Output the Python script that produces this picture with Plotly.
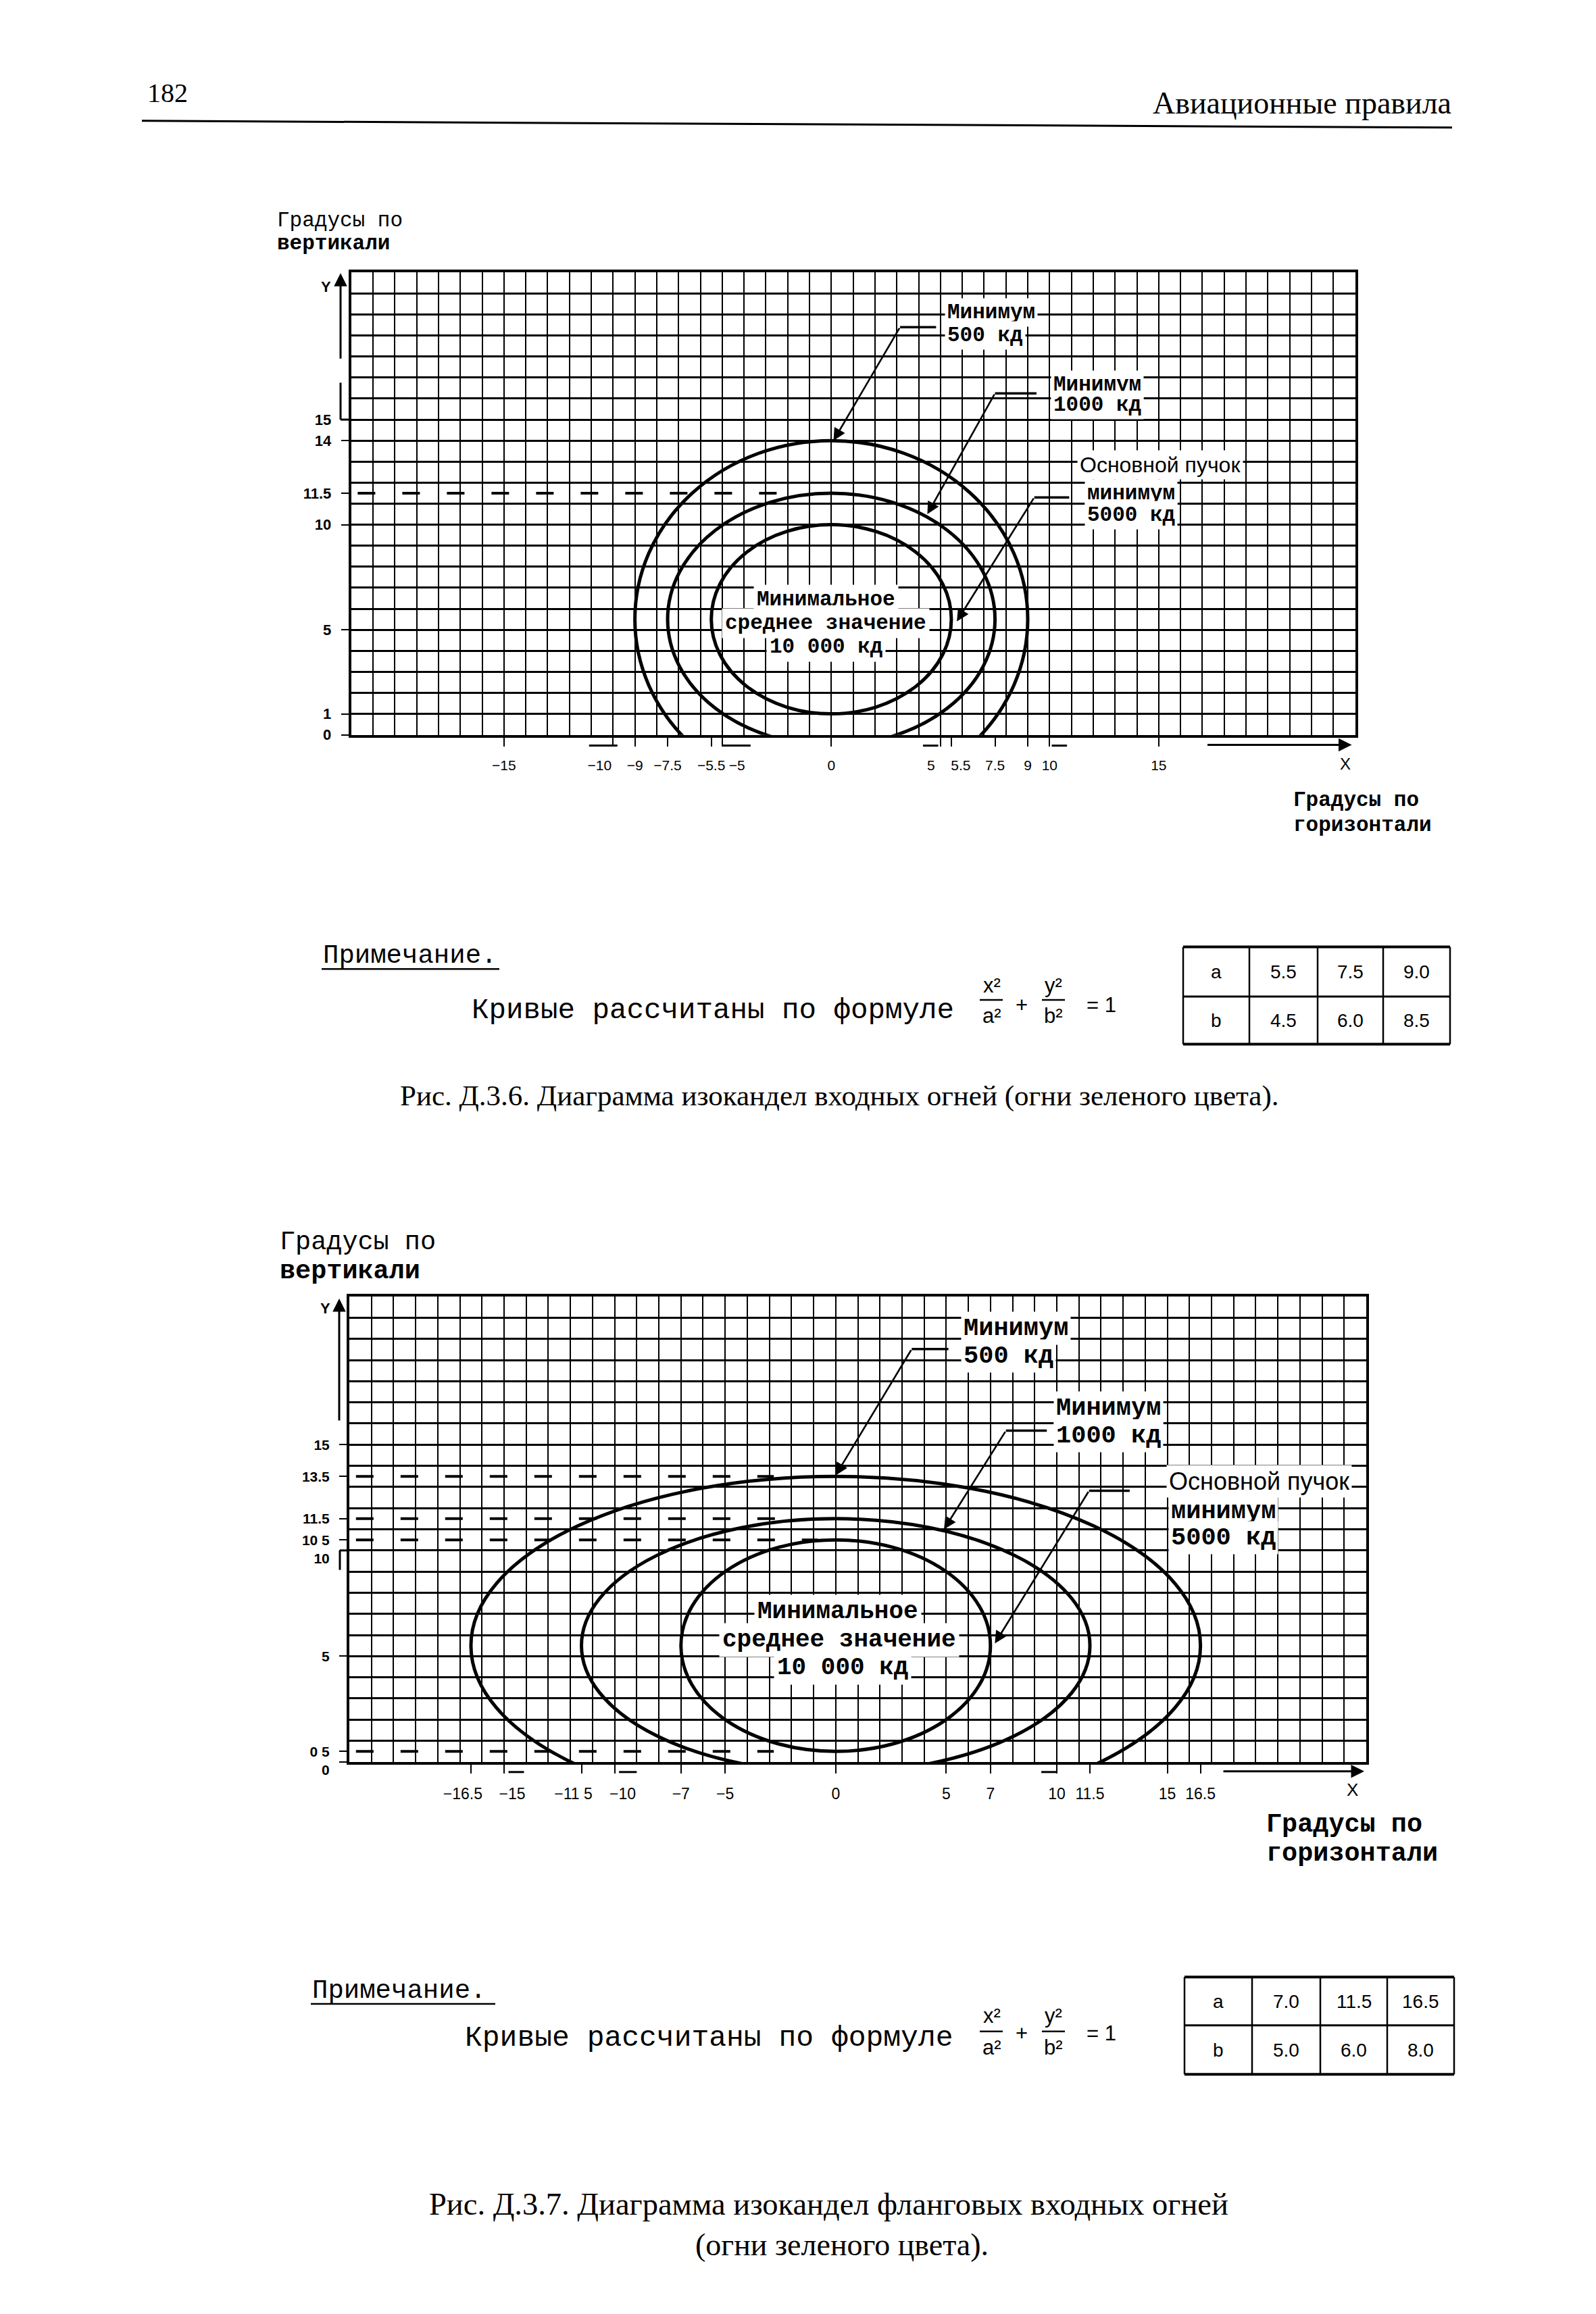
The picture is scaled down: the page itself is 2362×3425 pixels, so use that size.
import plotly.graph_objects as go

# ---------------- data ----------------
top_a = [5.5, 7.5, 9.0]
top_b = [4.5, 6.0, 8.5]
top_center_y = 5.5
top_x_ticks = [-15, -10, -9, -7.5, -5.5, -5, 0, 5, 5.5, 7.5, 9, 10, 15]
top_x_labels = ["−15", "−10", "−9", "−7.5", "−5.5", "−5", "0", "5", "5.5", "7.5", "9", "10", "15"]
top_y_ticks = [0, 1, 5, 10, 11.5, 14, 15]
top_y_labels = ["0", "1", "5", "10", "11.5", "14", "15"]
top_dash_levels = [11.5]
top_dash_end = [-2.5]

bot_a = [7.0, 11.5, 16.5]
bot_b = [5.0, 6.0, 8.0]
bot_center_y = 5.5
bot_x_ticks = [-16.5, -15, -11.5, -10, -7, -5, 0, 5, 7, 10, 11.5, 15, 16.5]
bot_x_labels = ["−16.5", "−15", "−11 5", "−10", "−7", "−5", "0", "5", "7", "10", "11.5", "15", "16.5"]
bot_y_ticks = [0, 0.5, 5, 10, 10.5, 11.5, 13.5, 15]
bot_y_labels = ["0", "0 5", "5", "10", "10 5", "11.5", "13.5", "15"]
bot_dash_levels = [13.5, 11.5, 10.5, 0.5]
bot_dash_end = [-2.8, -2.6, -0.8, -2.8]

x_range = [-22, 24]
y_range = [0, 22]

# ---------------- page geometry ----------------
W, H = 2362, 3425
XS = -10  # global horizontal offset of the page content
SERIF = "Liberation Serif"
MONO = "Liberation Mono"
SANS = "Liberation Sans"


def px(x):
    return (x + XS) / W


def py(y):
    return 1 - y / H


TOP = dict(L=521.7, R=2007.5, T=398.0, B=1087.0)
BOT = dict(L=519.0, R=2024.0, T=1924.0, B=2617.5)

# label shifts (pixels along the axis) so that crowded tick labels sit as in the print
top_x_shift = {-10: -20, 5: -14, -5: 22, 5.5: 14}
bot_x_shift = {-16.5: -12, -11.5: -12, -15: 12, -10: 12}
top_y_shift = {}
bot_y_shift = {0: 12, 10: 12}

fig = go.Figure()
shapes = []
annotations = []
axis_counter = [4]


def new_id():
    axis_counter[0] += 1
    return axis_counter[0]


def ptext(text, x, y, size, family, xanchor="center", weight="normal", yanchor="middle"):
    annotations.append(dict(text=text, x=px(x), y=py(y), xref="paper", yref="paper",
                            xanchor=xanchor, yanchor=yanchor, showarrow=False,
                            font=dict(family=family, size=size, color="black", weight=weight)))


def pline(x0, y0, x1, y1, width=3, dash="solid"):
    shapes.append(dict(type="line", xref="paper", yref="paper", x0=px(x0), y0=py(y0),
                       x1=px(x1), y1=py(y1), line=dict(color="black", width=width, dash=dash)))


def data_px(g, x, y):
    xp = g["L"] + (x - x_range[0]) / (x_range[1] - x_range[0]) * (g["R"] - g["L"])
    yp = g["B"] - (y - y_range[0]) / (y_range[1] - y_range[0]) * (g["B"] - g["T"])
    return xp, yp


def axname(a):
    return ("xaxis" if a[0] == "x" else "yaxis") + a[1:]


def tick_axes(kind, base, anchor, main_id, vals, labels, shifts, rng, font, ticklen, standoff, side):
    """main tick axis with all tick marks + extra overlay axes for shifted labels"""
    main_text = [t if shifts.get(v, 0) == 0 else "" for v, t in zip(vals, labels)]
    common = dict(overlaying=base, anchor=anchor, range=rng, tickmode="array", ticks="outside",
                  ticklen=ticklen, tickwidth=2, showgrid=False, zeroline=False, showline=False,
                  side=side, ticklabelstandoff=standoff, fixedrange=True, tickangle=0, tickfont=font)
    fig.update_layout({axname(main_id): dict(common, tickvals=vals, ticktext=main_text, tickcolor="black")})
    extra = []
    for s in sorted(set(shifts.get(v, 0) for v in vals) - {0}):
        gv = [v for v in vals if shifts.get(v, 0) == s]
        gt = [t for v, t in zip(vals, labels) if shifts.get(v, 0) == s]
        aid = kind + str(new_id())
        fig.update_layout({axname(aid): dict(common, tickvals=gv, ticktext=gt,
                                             tickcolor="rgba(0,0,0,0)", ticklabelshift=s)})
        extra.append(aid)
    return extra


def build_chart(g, xa, ya, xt, yt, a_vals, b_vals, yc, xticks, xlabels, yticks, ylabels,
                dash_levels, dash_end, xfont_size, yfont_size, xshift, yshift,
                callouts, texts, center_texts, tfont):
    grid_common = dict(showticklabels=False, ticks="", zeroline=False,
                       showline=True, linewidth=4, linecolor="black", mirror=True,
                       showgrid=True, gridcolor="black", dtick=1, tick0=0, fixedrange=True)
    xg = dict(grid_common, range=x_range, domain=[px(g["L"]), px(g["R"])], anchor=ya, gridwidth=1.6)
    yg = dict(grid_common, range=y_range, domain=[py(g["B"]), py(g["T"])], anchor=xa, gridwidth=2.6)
    fig.update_layout({axname(xa): xg, axname(ya): yg})
    fig.add_trace(go.Scatter(x=[None], y=[None], xaxis=xa, yaxis=ya, showlegend=False, hoverinfo="skip"))

    xf = dict(family=SANS, size=xfont_size, color="black")
    yf = dict(family=SANS, size=yfont_size, color="black", weight="bold")
    ex_x = tick_axes("x", xa, ya, xt, xticks, xlabels, xshift, x_range, xf, 16, 10, "bottom")
    ex_y = tick_axes("y", ya, xa, yt, yticks, ylabels, yshift, y_range, yf, 14, 10, "left")
    fig.add_trace(go.Scatter(x=[None], y=[None], xaxis=xt, yaxis=yt, showlegend=False, hoverinfo="skip"))
    for e in ex_x:
        fig.add_trace(go.Scatter(x=[None], y=[None], xaxis=e, yaxis=ya, showlegend=False, hoverinfo="skip"))
    for e in ex_y:
        fig.add_trace(go.Scatter(x=[None], y=[None], xaxis=xa, yaxis=e, showlegend=False, hoverinfo="skip"))

    # ellipses x^2/a^2 + (y-yc)^2/b^2 = 1
    for a, b in zip(a_vals, b_vals):
        shapes.append(dict(type="circle", xref=xa, yref=ya, x0=-a, x1=a, y0=yc - b, y1=yc + b,
                           line=dict(color="black", width=5), layer="above"))
    # dashed reference levels
    for lev, xe in zip(dash_levels, dash_end):
        shapes.append(dict(type="line", xref=xa, yref=ya, x0=x_range[0] + 0.3, x1=xe, y0=lev, y1=lev,
                           line=dict(color="black", width=4, dash="26px,40px"), layer="above"))
    # callout leaders
    for (tx, ty, kx, ky, ex) in callouts:
        shapes.append(dict(type="line", xref=xa, yref=ya, x0=kx, x1=ex, y0=ky, y1=ky,
                           line=dict(color="black", width=3.5), layer="above"))
        annotations.append(dict(x=tx, y=ty, ax=kx, ay=ky, xref=xa, yref=ya, axref=xa, ayref=ya,
                                text="", showarrow=True, arrowhead=2, arrowsize=1.4,
                                arrowwidth=2.6, arrowcolor="black", standoff=0))
    for (t, x, y, fam, w, size) in texts:
        annotations.append(dict(text=t, x=x, y=y, xref=xa, yref=ya, xanchor="left", yanchor="middle",
                                showarrow=False, bgcolor="white", borderpad=3,
                                font=dict(family=fam, size=size, color="black", weight=w)))
    for (t, x, y) in center_texts:
        annotations.append(dict(text=t, x=x, y=y, xref=xa, yref=ya, xanchor="center", yanchor="middle",
                                showarrow=False, bgcolor="white", borderpad=4,
                                font=dict(family=MONO, size=tfont, color="black", weight="bold")))


# ---------------- top chart ----------------
top_callouts = [
    (0.1, 14.0, 3.15, 19.4, 4.8),
    (4.4, 10.5, 7.5, 16.25, 9.4),
    (5.75, 5.4, 9.3, 11.3, 10.9),
]
top_texts = [
    ("Минимум", 5.2, 20.1, MONO, "bold", 31),
    ("500 кд", 5.2, 19.0, MONO, "bold", 31),
    ("Минимум", 10.05, 16.65, MONO, "bold", 31),
    ("1000 кд", 10.05, 15.68, MONO, "bold", 31),
    ("Основной пучок", 11.25, 12.84, SANS, "normal", 32),
    ("минимум", 11.6, 11.48, MONO, "bold", 31),
    ("5000 кд", 11.6, 10.45, MONO, "bold", 31),
]
top_center = [("Минимальное", -0.25, 6.42), ("среднее значение", -0.25, 5.31), ("10 000 кд", -0.25, 4.2)]
build_chart(TOP, "x", "y", "x3", "y3", top_a, top_b, top_center_y, top_x_ticks, top_x_labels,
            top_y_ticks, top_y_labels, top_dash_levels, top_dash_end, 21, 22, top_x_shift, top_y_shift,
            top_callouts, top_texts, top_center, 31)

# ---------------- bottom chart ----------------
bot_callouts = [
    (0.0, 13.55, 3.44, 19.52, 5.1),
    (4.9, 11.0, 7.7, 15.66, 9.55),
    (7.2, 5.6, 11.46, 12.82, 13.3),
]
bot_texts = [
    ("Минимум", 5.65, 20.49, MONO, "bold", 37),
    ("500 кд", 5.65, 19.18, MONO, "bold", 37),
    ("Минимум", 9.85, 16.74, MONO, "bold", 37),
    ("1000 кд", 9.85, 15.43, MONO, "bold", 37),
    ("Основной пучок", 14.95, 13.27, SANS, "normal", 36),
    ("минимум", 15.05, 11.85, MONO, "bold", 37),
    ("5000 кд", 15.05, 10.6, MONO, "bold", 37),
]
bot_center = [("Минимальное", 0.1, 7.11), ("среднее значение", 0.15, 5.76), ("10 000 кд", 0.3, 4.46)]
build_chart(BOT, "x2", "y2", "x4", "y4", bot_a, bot_b, bot_center_y, bot_x_ticks, bot_x_labels,
            bot_y_ticks, bot_y_labels, bot_dash_levels, bot_dash_end, 23, 21, bot_x_shift, bot_y_shift,
            bot_callouts, bot_texts, bot_center, 36)

# ---------------- decorations around charts ----------------
tl, bl = TOP["L"], BOT["L"]
_, t15 = data_px(TOP, 0, 15)
_, b10 = data_px(BOT, 0, 10)
annotations.append(dict(x=px(tl - 15.7), y=py(TOP["T"] + 1), ax=0, ay=128, xref="paper", yref="paper",
                        text="", showarrow=True, arrowhead=2, arrowsize=1.3, arrowwidth=3, arrowcolor="black"))
pline(tl - 15.7, t15 - 55, tl - 15.7, t15, 3)
pline(tl - 15.7, t15, tl, t15, 3)
annotations.append(dict(x=px(bl - 15), y=py(BOT["T"] + 3), ax=0, ay=182, xref="paper", yref="paper",
                        text="", showarrow=True, arrowhead=2, arrowsize=1.3, arrowwidth=3, arrowcolor="black"))
pline(bl - 14, b10, bl, b10, 3)
pline(bl - 14, b10, bl - 14, b10 + 29, 3)
ptext("Y", tl - 37, TOP["T"] + 21, 22, SANS, weight="bold")
ptext("Y", bl - 36, BOT["T"] + 18, 22, SANS, weight="bold")

# X arrows
annotations.append(dict(x=px(TOP["R"] - 5), y=py(TOP["B"] + 15), ax=-215, ay=0, xref="paper", yref="paper",
                        text="", showarrow=True, arrowhead=2, arrowsize=1.3, arrowwidth=3, arrowcolor="black"))
annotations.append(dict(x=px(BOT["R"] - 3), y=py(BOT["B"] + 14), ax=-210, ay=0, xref="paper", yref="paper",
                        text="", showarrow=True, arrowhead=2, arrowsize=1.3, arrowwidth=3, arrowcolor="black"))
ptext("X", TOP["R"] - 15, TOP["B"] + 43, 24, SANS)
ptext("X", BOT["R"] - 21, BOT["B"] + 41, 26, SANS)

# small marks below the x axes
for (x0, x1) in [(-11.1, -9.8), (-5.0, -3.7), (4.2, 4.9), (10.1, 10.8)]:
    a0, b0 = data_px(TOP, x0, 0)
    a1, _ = data_px(TOP, x1, 0)
    pline(a0, b0 + 16, a1, b0 + 16, 3)
for (x0, x1) in [(-14.8, -14.1), (-9.8, -9.0), (9.3, 10.0)]:
    a0, b0 = data_px(BOT, x0, 0)
    a1, _ = data_px(BOT, x1, 0)
    pline(a0, b0 + 15, a1, b0 + 15, 3)

# axis titles
ptext("Градусы по", 410, 321, 31, MONO, xanchor="left")
ptext("вертикали", 410, 355, 31, MONO, xanchor="left", weight="bold")
ptext("Градусы по", 1914, 1184, 31, MONO, xanchor="left", weight="bold")
ptext("горизонтали", 1914, 1222, 31, MONO, xanchor="left", weight="bold")
ptext("Градусы по", 414, 1843, 38.5, MONO, xanchor="left")
ptext("вертикали", 414, 1887, 38.5, MONO, xanchor="left", weight="bold")
ptext("Градусы по", 1874, 2711, 38.5, MONO, xanchor="left", weight="bold")
ptext("горизонтали", 1874, 2754, 38.5, MONO, xanchor="left", weight="bold")

# ---------------- header ----------------
ptext("182", 250, 130, 40, SERIF)
ptext("Авиационные правила", 2152, 145, 46, SERIF, xanchor="right")
pline(212, 172, 2151, 182, 3)


# ---------------- notes, formulas, tables, captions ----------------
def note_block(y_note, x_note, u_end, y_text, x_text, text_size, y_num, y_bar, y_den, y_eq,
               table_cols, table_rows, a_vals, b_vals):
    ptext("Примечание.", x_note, y_note, 39, MONO, xanchor="left")
    pline(x_note, y_note + 19, u_end, y_note + 19, 2.5)
    ptext("Кривые рассчитаны по формуле", x_text, y_text, text_size, MONO, xanchor="left")
    ptext("x²", 1470, y_num, 31, SANS)
    ptext("a²", 1470, y_den, 31, SANS)
    ptext("+", 1514, y_eq, 31, SANS)
    ptext("y²", 1561, y_num, 31, SANS)
    ptext("b²", 1561, y_den, 31, SANS)
    ptext("= 1", 1608, y_eq, 31, SANS, xanchor="left")
    pline(1452, y_bar, 1486, y_bar, 2.5)
    pline(1544, y_bar, 1578, y_bar, 2.5)
    # table
    for i, yv in enumerate(table_rows):
        pline(table_cols[0], yv, table_cols[-1], yv, 4 if i != 1 else 3)
    for xv in table_cols:
        pline(xv, table_rows[0], xv, table_rows[-1], 2.5)
    rows = [["a"] + ["%.1f" % v for v in a_vals], ["b"] + ["%.1f" % v for v in b_vals]]
    for r, row in enumerate(rows):
        yc = (table_rows[r] + table_rows[r + 1]) / 2
        for c, val in enumerate(row):
            xc = (table_cols[c] + table_cols[c + 1]) / 2
            ptext(val, xc, yc, 28, SANS)


note_block(1417, 478, 741, 1498, 698, 42.5, 1460, 1482, 1506, 1490,
           [1753, 1851, 1952, 2049, 2148], [1403, 1477, 1548], top_a, top_b)
note_block(2959, 462, 735, 3029, 688, 43.0, 2996, 3019, 3043, 3022,
           [1755, 1855, 1956, 2055, 2154], [2938, 3010, 3083], bot_a, bot_b)

ptext("Рис. Д.3.6. Диаграмма изокандел входных огней (огни зеленого цвета).", 1244, 1625, 43, SERIF)
ptext("Рис. Д.3.7. Диаграмма изокандел фланговых входных огней", 1228, 3276, 46.5, SERIF)
ptext("(огни зеленого цвета).", 1248, 3337, 46, SERIF)

fig.update_layout(
    width=W, height=H, margin=dict(l=0, r=0, t=0, b=0),
    paper_bgcolor="white", plot_bgcolor="white", showlegend=False,
    shapes=shapes, annotations=annotations,
)

fig.write_html("out.html")
